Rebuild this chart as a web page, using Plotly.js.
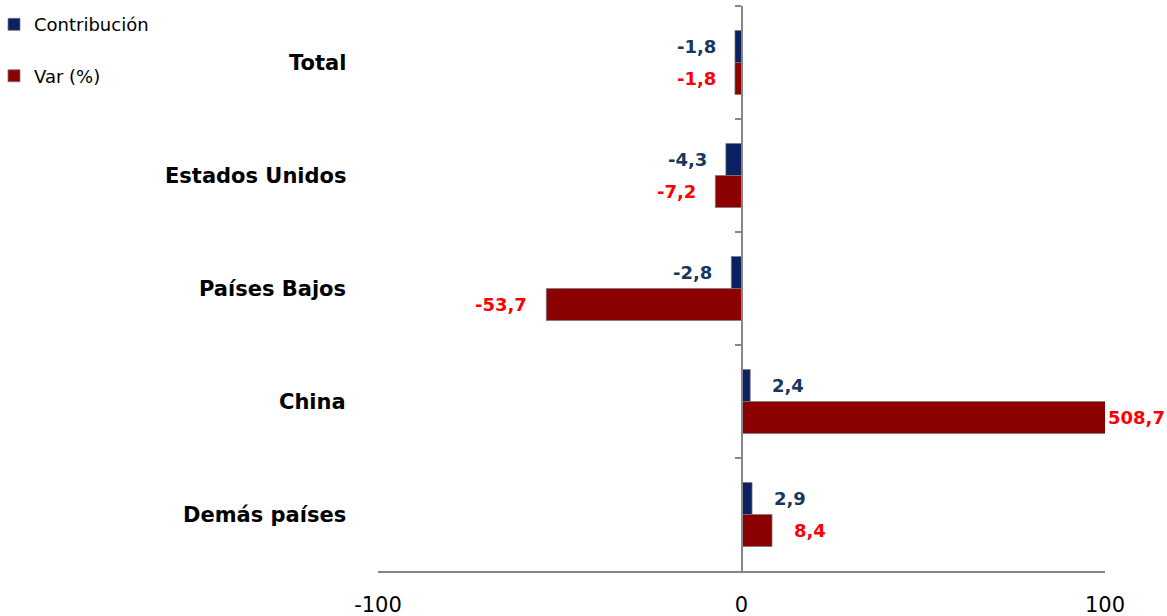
<!DOCTYPE html>
<html><head><meta charset="utf-8">
<script src="https://cdn.plot.ly/plotly-3.0.1.min.js"></script>
<style>html,body{margin:0;padding:0;background:#fff;}#chart{width:1167px;height:616px;}</style>
</head><body><div id="chart"></div>
<script>
// ---- data ----
const categories = ['Total', 'Estados Unidos', 'Países Bajos', 'China', 'Demás países'];
const contribucion = [-1.8, -4.3, -2.8, 2.4, 2.9];
const variacion = [-1.8, -7.2, -53.7, 508.7, 8.4];
const seriesNames = ['Contribución', 'Var (%)'];
const xTickVals = [-100, 0, 100];
const xTickText = ['-100', '0', '100'];

// ---- layout settings ----
const W = 1167, H = 616;
const margin = {l: 378, r: 62, t: 6, b: 45, pad: 0, autoexpand: false};
const xRange = [-100, 100];
const bargap = 0.434;
const plotW = W - margin.l - margin.r;
const plotH = H - margin.t - margin.b;
const band = plotH / categories.length;
const barOffsetPx = band * (1 - bargap) / 4;

function fmt(v) { return v.toFixed(1).replace('.', ','); }
function clampX(v) { return Math.max(xRange[0], Math.min(xRange[1], v)); }

const barLine = {color: 'rgba(120,120,120,0.75)', width: 1};
const traces = [
  {type: 'bar', orientation: 'h', name: seriesNames[0], y: categories, x: contribucion,
   marker: {color: '#0b2161', line: barLine}, legendgroup: 'a', hoverinfo: 'x+y'},
  {type: 'bar', orientation: 'h', name: seriesNames[1], y: categories, x: variacion,
   marker: {color: '#8b0000', line: barLine}, legendgroup: 'b', hoverinfo: 'x+y'}
];

const annotations = [];
const labelSeries = [
  {vals: contribucion, yshift: barOffsetPx, color: '#17375e'},
  {vals: variacion, yshift: -barOffsetPx, color: '#ff0000'}
];
categories.forEach((c, i) => {
  annotations.push({
    xref: 'paper', yref: 'y', x: 0, y: c, xanchor: 'right', xshift: -30,
    text: '<b>' + c + '</b>', showarrow: false,
    font: {family: 'DejaVu Sans', size: 21, color: '#000'}
  });
  labelSeries.forEach(s => {
    const v = s.vals[i];
    const xv = clampX(v);
    const clipped = xv !== v;
    annotations.push({
      xref: 'x', yref: 'y', x: xv, y: c,
      xanchor: v < 0 ? 'right' : 'left',
      xshift: v < 0 ? -17 : (clipped ? 1 : 20),
      yshift: s.yshift,
      text: '<b>' + fmt(v) + '</b>', showarrow: false,
      font: {family: 'DejaVu Sans', size: 18, color: s.color}
    });
  });
});

const axisGray = '#868686';
const layout = {
  width: W, height: H, margin: margin,
  paper_bgcolor: '#fff', plot_bgcolor: '#fff',
  barmode: 'group', bargap: bargap, bargroupgap: 0,
  font: {family: 'DejaVu Sans', color: '#000'},
  showlegend: true,
  xaxis: {range: xRange, tickvals: xTickVals, ticktext: xTickText,
    ticks: 'inside', ticklen: 6, tickwidth: 2, tickcolor: axisGray,
    showline: true, linecolor: axisGray, linewidth: 2,
    showgrid: false, zeroline: false, ticklabelstandoff: 14,
    tickfont: {family: 'DejaVu Sans', size: 21, color: '#000'}},
  yaxis: {type: 'category', autorange: 'reversed', anchor: 'free', position: 0.5,
    showline: true, linecolor: axisGray, linewidth: 2,
    ticks: 'outside', tickson: 'boundaries', ticklen: 6, tickwidth: 2, tickcolor: axisGray,
    showticklabels: false, showgrid: false, zeroline: false},
  legend: {xref: 'paper', yref: 'container', x: -(margin.l + 6) / plotW, y: 0.99,
    xanchor: 'left', yanchor: 'top',
    traceorder: 'grouped', tracegroupgap: 25, itemwidth: 30, bgcolor: 'rgba(0,0,0,0)',
    font: {family: 'DejaVu Sans', size: 18, color: '#000'}},
  annotations: annotations
};

Plotly.newPlot('chart', traces, layout, {displayModeBar: false, staticPlot: true});
</script>
</body></html>
